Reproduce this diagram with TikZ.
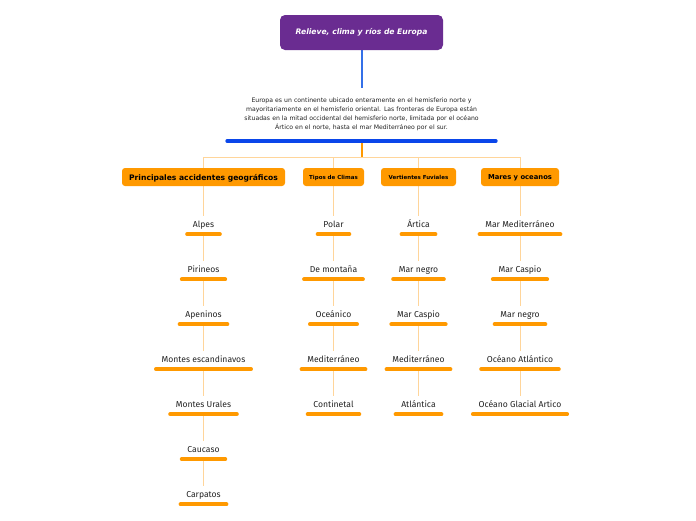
\documentclass[tikz,border=0pt]{standalone}
\usepackage{fontspec}
\setmainfont{DejaVu Sans}
\newfontfamily\firafont{Fira Sans}
\usetikzlibrary{positioning,backgrounds}
\definecolor{morado}{HTML}{6A2C91}
\definecolor{azul}{HTML}{3470E8}
\definecolor{azulfuerte}{HTML}{0A46EA}
\definecolor{naranja}{HTML}{FF9900}
\definecolor{naranjaclaro}{HTML}{FFD59A}
\definecolor{texto}{HTML}{222222}
\tikzset{
  titulo/.style={fill=morado, rounded corners=5pt, text=white, font=\fontsize{7.6}{8}\selectfont\bfseries\itshape, minimum width=163pt, minimum height=35pt},
  rama/.style={fill=naranja, rounded corners=3pt, minimum height=18pt, inner xsep=0pt, text depth=0pt},
  subrayado/.style={draw=naranja, line width=4pt, line cap=round},
  hoja/.style={font=\firafont\fontsize{8.6}{9}\selectfont, text=texto, text height=6pt, text depth=2pt, inner xsep=5.5pt, inner ysep=5pt,
    append after command={(\tikzlastnode.south west) edge[subrayado] (\tikzlastnode.south east)}},
  enlace/.style={draw=naranjaclaro, line width=1pt},
}
\begin{document}
\begin{tikzpicture}[x=1pt, y=-1pt, node distance=45pt, on grid]
  \useasboundingbox (0,0) rectangle (696,520);
  % titulo y descripcion
  \node[titulo] (tit) at (361.5,32.5) {Relieve, clima y ríos de Europa};
  \node[anchor=south, text width=262pt, align=center, inner xsep=3pt, inner ysep=10pt, text=texto, font=\fontsize{6.15}{9}\selectfont] (desc) at (361.5,141)
    {Europa es un continente ubicado enteramente en el hemisferio norte y\\
     mayoritariamente en el hemisferio oriental. Las fronteras de Europa están\\
     situadas en la mitad occidental del hemisferio norte, limitada por el océano\\
     Ártico en el norte, hasta el mar Mediterráneo por el sur.};
  \draw[azulfuerte, line width=4pt, line cap=round] (desc.south west) -- (desc.south east);
  \coordinate (hub) at (361.5,157);
  % ramas
  \node[rama, minimum width=163pt, font=\fontsize{7.6}{8}\selectfont\bfseries] (b1) at (203.5,177) {Principales accidentes geográficos};
  \node[rama, minimum width=61pt, font=\fontsize{5.5}{6}\selectfont\bfseries] (b2) at (333.5,177) {Tipos de Climas};
  \node[rama, minimum width=75pt, font=\fontsize{5.5}{6}\selectfont\bfseries] (b3) at (418.5,177) {Vertientes Fuviales};
  \node[rama, minimum width=78pt, font=\fontsize{6.8}{7}\selectfont\bfseries] (b4) at (520,177) {Mares y oceanos};
  % accidentes geograficos
  \node[hoja] (a1) at (203.5,225) {Alpes};
  \node[hoja, below=of a1] (a2) {Pirineos};
  \node[hoja, below=of a2] (a3) {Apeninos};
  \node[hoja, below=of a3] (a4) {Montes escandinavos};
  \node[hoja, below=of a4] (a5) {Montes Urales};
  \node[hoja, below=of a5] (a6) {Caucaso};
  \node[hoja, below=of a6] (a7) {Carpatos};
  % climas
  \node[hoja] (c1) at (333.5,225) {Polar};
  \node[hoja, below=of c1] (c2) {De montaña};
  \node[hoja, below=of c2] (c3) {Oceánico};
  \node[hoja, below=of c3] (c4) {Mediterráneo};
  \node[hoja, below=of c4] (c5) {Continetal};
  % vertientes
  \node[hoja] (v1) at (418.5,225) {Ártica};
  \node[hoja, below=of v1] (v2) {Mar negro};
  \node[hoja, below=of v2] (v3) {Mar Caspio};
  \node[hoja, below=of v3] (v4) {Mediterráneo};
  \node[hoja, below=of v4] (v5) {Atlántica};
  % mares
  \node[hoja] (m1) at (520,225) {Mar Mediterráneo};
  \node[hoja, below=of m1] (m2) {Mar Caspio};
  \node[hoja, below=of m2] (m3) {Mar negro};
  \node[hoja, below=of m3] (m4) {Océano Atlántico};
  \node[hoja, below=of m4] (m5) {Océano Glacial Artico};
  % conectores
  \begin{scope}[on background layer]
    \draw[draw=azul, line width=2pt] (tit.south) -- (desc.north);
    \draw[draw=naranja, line width=2pt] (desc.south) -- (hub);
    \draw[enlace] (hub) -| (b1);
    \draw[enlace] (hub) -| (b2);
    \draw[enlace] (hub) -| (b3);
    \draw[enlace] (hub) -| (b4);
    \draw[enlace] (b1) -- (a1) (a1.south) -- (a2) (a2.south) -- (a3) (a3.south) -- (a4) (a4.south) -- (a5) (a5.south) -- (a6) (a6.south) -- (a7);
    \draw[enlace] (b2) -- (c1) (c1.south) -- (c2) (c2.south) -- (c3) (c3.south) -- (c4) (c4.south) -- (c5);
    \draw[enlace] (b3) -- (v1) (v1.south) -- (v2) (v2.south) -- (v3) (v3.south) -- (v4) (v4.south) -- (v5);
    \draw[enlace] (b4) -- (m1) (m1.south) -- (m2) (m2.south) -- (m3) (m3.south) -- (m4) (m4.south) -- (m5);
  \end{scope}
\end{tikzpicture}
\end{document}
